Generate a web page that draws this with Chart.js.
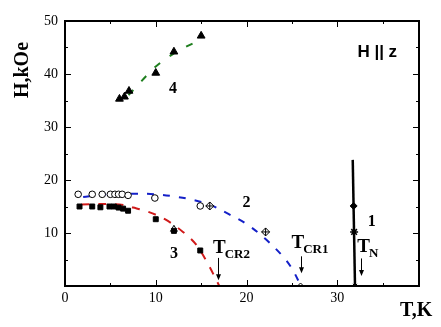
<!DOCTYPE html>
<html>
<head>
<meta charset="utf-8">
<script src="https://cdn.jsdelivr.net/npm/chart.js"></script>
<style>
  html, body { margin: 0; padding: 0; background: #fff; }
  #phase { display: block; }
</style>
</head>
<body>
<canvas id="phase" width="441" height="327"></canvas>
<script>
// curve 4: triangles and their fit
const t4 = [6.0, 6.55, 7.05, 10.0, 12.0, 15.0];
const h4 = [35.3, 35.7, 36.8, 40.2, 44.2, 47.2];
const fitT4 = [7.0, 8.5, 10.0, 12.0, 14.0, 15.0];
const fitH4 = [36.0, 38.8, 41.4, 43.9, 45.7, 46.4];

// curve 2: open circles, crossed diamonds and their fit
const t2 = [1.45, 3.0, 4.1, 5.0, 5.5, 5.9, 6.3, 6.95, 9.9, 14.9];
const h2 = [17.3, 17.3, 17.3, 17.3, 17.3, 17.3, 17.3, 17.1, 16.6, 15.1];
const t2x = [15.95, 22.1];
const h2x = [15.1, 10.2];
const fitT2 = [2.0, 4.0, 8.0, 10.0, 12.0, 14.0, 16.0, 18.0, 20.0, 22.0, 24.0, 25.0, 26.0];
const fitH2 = [16.8, 17.2, 17.4, 17.3, 16.9, 16.3, 15.3, 13.6, 11.7, 9.0, 5.6, 3.3, 0];

// curve 3: filled squares and their fit
const t3 = [1.6, 3.0, 3.9, 4.9, 5.4, 5.9, 6.4, 6.95, 10.0, 12.0, 14.9];
const h3 = [15.0, 15.0, 14.85, 15.0, 15.0, 14.8, 14.6, 14.2, 12.6, 10.4, 6.7];
const fitT3 = [1.8, 6.0, 7.5, 9.0, 11.0, 13.0, 14.5, 15.8, 17.0];
const fitH3 = [15.4, 15.4, 14.8, 14.1, 12.6, 10.2, 7.7, 4.0, 0];

// curve 1: the T_N boundary
const t1 = [31.7, 31.95];
const h1 = [23.8, 0];

// transition temperatures on the T axis
const tCR2 = 16.9, tCR1 = 25.95, tN = 32.6;

// axis ticks
const xTickValues = [0, 10, 20, 30];
const xMinorValues = [5, 15, 25, 35];
const yTickValues = [10, 20, 30, 40, 50];
const yMinorValues = [5, 15, 25, 35, 45];

const pts = (xs, ys) => xs.map((x, i) => ({ x: x, y: ys[i] }));
const serif = '"Liberation Serif", "Times New Roman", serif';

const marks = (data, style, order) => Object.assign({
  data: data, showLine: false, order: order,
  pointBorderColor: '#000', pointBackgroundColor: '#000', pointBorderWidth: 1
}, style);

const fit = (data, color, dash) => ({
  data: data, showLine: true, pointRadius: 0, tension: 0.35,
  borderColor: color, borderWidth: 2, borderDash: dash, order: 10
});

// labels and arrows, placed in data units
const notes = [
  { text: '4', t: 11.9, h: 36.4 },
  { text: '2', t: 20.0, h: 15.0 },
  { text: '1', t: 33.8, h: 11.3 },
  { text: '3', t: 12.0, h: 5.2 }
];
const temps = [
  { main: 'T', sub: 'CR2', t: 16.3, h: 6.2, arrowFrom: 5.3, arrowTo: 1.1, at: tCR2 },
  { main: 'T', sub: 'CR1', t: 24.95, h: 7.1, arrowFrom: 5.6, arrowTo: 2.4, at: tCR1 },
  { main: 'T', sub: 'N', t: 32.2, h: 6.5, arrowFrom: 5.2, arrowTo: 1.9, at: tN }
];

const decor = {
  id: 'decor',
  afterDatasetsDraw(chart) {
    const { ctx, chartArea: a, scales: { x, y } } = chart;
    ctx.save();
    ctx.strokeStyle = '#000';
    ctx.fillStyle = '#000';
    ctx.lineWidth = 2;
    ctx.strokeRect(a.left, a.top, a.right - a.left, a.bottom - a.top);

    // inward ticks on all four sides
    ctx.lineWidth = 1;
    const xTick = (v, len) => {
      const px = Math.round(x.getPixelForValue(v)) + 0.5;
      ctx.beginPath();
      ctx.moveTo(px, a.bottom); ctx.lineTo(px, a.bottom - len);
      ctx.moveTo(px, a.top); ctx.lineTo(px, a.top + len);
      ctx.stroke();
    };
    const yTick = (v, len) => {
      const py = Math.round(y.getPixelForValue(v)) + 0.5;
      ctx.beginPath();
      ctx.moveTo(a.left, py); ctx.lineTo(a.left + len, py);
      ctx.moveTo(a.right, py); ctx.lineTo(a.right - len, py);
      ctx.stroke();
    };
    xTickValues.forEach(v => xTick(v, 6));
    xMinorValues.forEach(v => xTick(v, 3));
    yTickValues.forEach(v => yTick(v, 6));
    yMinorValues.forEach(v => yTick(v, 3));

    // curve numbers
    ctx.font = 'bold 16px ' + serif;
    ctx.textAlign = 'center';
    ctx.textBaseline = 'alphabetic';
    notes.forEach(n => ctx.fillText(n.text, x.getPixelForValue(n.t), y.getPixelForValue(n.h)));

    // transition temperatures with arrows
    ctx.textAlign = 'left';
    temps.forEach(m => {
      const px = x.getPixelForValue(m.t), py = y.getPixelForValue(m.h);
      ctx.font = 'bold 19px ' + serif;
      ctx.fillText(m.main, px, py);
      const w = ctx.measureText(m.main).width;
      ctx.font = 'bold 13px ' + serif;
      ctx.fillText(m.sub, px + w - 1, py + 5);

      const ax = Math.round(x.getPixelForValue(m.at)) + 0.5;
      const y0 = y.getPixelForValue(m.arrowFrom), y1 = y.getPixelForValue(m.arrowTo);
      ctx.lineWidth = 1;
      ctx.beginPath();
      ctx.moveTo(ax, y0); ctx.lineTo(ax, y1 - 5);
      ctx.stroke();
      ctx.beginPath();
      ctx.moveTo(ax - 2.5, y1 - 6); ctx.lineTo(ax + 2.5, y1 - 6); ctx.lineTo(ax, y1);
      ctx.closePath();
      ctx.fill();
    });

    // field direction
    ctx.font = 'bold 17px "Liberation Sans", Arial, sans-serif';
    ctx.textAlign = 'center';
    ctx.fillText('H || z', x.getPixelForValue(34.4), y.getPixelForValue(43.2));

    // axis titles
    ctx.font = 'bold 20px ' + serif;
    ctx.textAlign = 'left';
    ctx.fillText('T,K', 400, 316);
    ctx.translate(28, 70);
    ctx.rotate(-Math.PI / 2);
    ctx.textAlign = 'center';
    ctx.fillText('H,kOe', 0, 0);
    ctx.restore();
  }
};

new Chart(document.getElementById('phase'), {
  type: 'scatter',
  data: {
    datasets: [
      marks(pts(t4, h4), { pointStyle: 'triangle', pointRadius: 4.5 }, 1),
      marks(pts(t2, h2), { pointStyle: 'circle', pointRadius: 3.3, pointBackgroundColor: '#fff' }, 1),
      marks(pts(t2x, h2x), { pointStyle: 'rectRot', pointRadius: 4, pointBackgroundColor: '#fff' }, 2),
      marks(pts(t2x, h2x), { pointStyle: 'cross', pointRadius: 4 }, 1),
      marks(pts([tCR1], [0]), { pointStyle: 'rectRot', pointRadius: 3, pointBackgroundColor: '#fff' }, 1),
      marks(pts([t3[9]], [h3[9] + 0.3]), { pointStyle: 'triangle', pointRadius: 4, pointBackgroundColor: 'rgba(0,0,0,0)' }, 0),
      marks(pts(t3, h3), { pointStyle: 'rect', pointRadius: 3.5 }, 1),
      marks(pts([31.8], [15.1]), { pointStyle: 'rectRot', pointRadius: 3.5 }, 1),
      marks(pts([31.85], [10.2]), { pointStyle: 'star', pointRadius: 4, pointBorderWidth: 1.5 }, 1),
      marks(pts([31.95], [0]), { pointStyle: 'crossRot', pointRadius: 3 }, 1),
      { data: pts(t1, h1), showLine: true, pointRadius: 0, borderColor: '#000', borderWidth: 2.5, order: 9 },
      fit(pts(fitT4, fitH4), '#1f7f1f', [7, 12]),
      fit(pts(fitT2, fitH2), '#1420c8', [7, 9]),
      fit(pts(fitT3, fitH3), '#d01a1a', [8, 9])
    ]
  },
  options: {
    responsive: false,
    animation: false,
    layout: { padding: { left: 0, top: 21, right: 22, bottom: 0 } },
    plugins: { legend: { display: false }, tooltip: { enabled: false } },
    scales: {
      x: {
        type: 'linear', min: 0, max: 39,
        grid: { display: false, drawTicks: false },
        border: { display: false },
        afterBuildTicks: s => { s.ticks = xTickValues.map(v => ({ value: v })); },
        afterFit: s => { s.height = 41; },
        ticks: { color: '#000', padding: 4, font: { family: serif, size: 14 } }
      },
      y: {
        type: 'linear', min: 0, max: 50,
        grid: { display: false, drawTicks: false },
        border: { display: false },
        afterBuildTicks: s => { s.ticks = yTickValues.map(v => ({ value: v })); },
        afterFit: s => { s.width = 65; },
        ticks: { color: '#000', padding: 7, font: { family: serif, size: 14 } }
      }
    }
  },
  plugins: [decor]
});
</script>
</body>
</html>
